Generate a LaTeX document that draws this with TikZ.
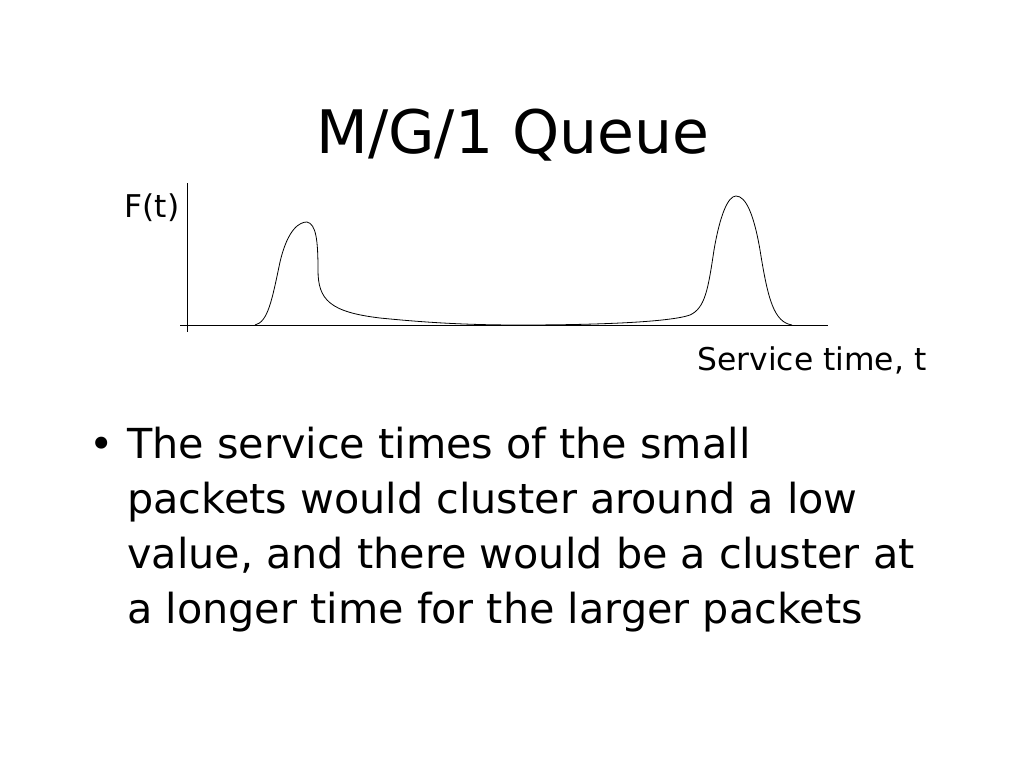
\documentclass[tikz,border=0pt]{standalone}
\usepackage{fontspec}
\setmainfont{DejaVu Sans}
\begin{document}
\begin{tikzpicture}[x=0.75pt,y=-0.75pt,
  lbl/.style={inner sep=0pt,font=\fontsize{23.5}{28}\selectfont},
  body/.style={inner sep=0pt,anchor=base west,font=\fontsize{31}{36}\selectfont}]
\useasboundingbox (0,0) rectangle (1024,768);
\node[inner sep=0pt,font=\fontsize{45}{52}\selectfont] (title) at (513,135) {M/G/1 Queue};
\coordinate (ytop) at (187,183);
\coordinate (ybot) at (187,332);
\coordinate (xl) at (180,325);
\coordinate (xr) at (828,325);
\draw[line width=0.6pt] (ytop) -- (ybot);
\draw[line width=0.6pt] (xl) -- (xr);
\draw[line width=0.6pt] (255,325) .. controls (268,322) and (272,300) .. (280,262)
  .. controls (288,228) and (300,222) .. (307,222)
  .. controls (316,224) and (318,240) .. (318,270)
  .. controls (318,300) and (330,312) .. (380,318)
  .. controls (430,323) and (470,325) .. (520,325)
  .. controls (600,325) and (670,322) .. (690,315)
  .. controls (705,308) and (708,290) .. (714,250)
  .. controls (720,215) and (728,196) .. (736,196)
  .. controls (746,196) and (754,215) .. (760,250)
  .. controls (768,300) and (774,322) .. (792,325);
\node[lbl] (ft) at (152,208) {F(t)};
\node[lbl] (st) at (812,360) {Service time, t};
\node[inner sep=0pt,anchor=base,font=\fontsize{31}{36}\selectfont] (bul) at (102,458) {•};
\node[body] (l1) at (127,458) {The service times of the small};
\node[body] (l2) at (127,513) {packets would cluster around a low};
\node[body] (l3) at (127,568) {value, and there would be a cluster at};
\node[body] (l4) at (127,623) {a longer time for the larger packets};
\end{tikzpicture}
\end{document}
